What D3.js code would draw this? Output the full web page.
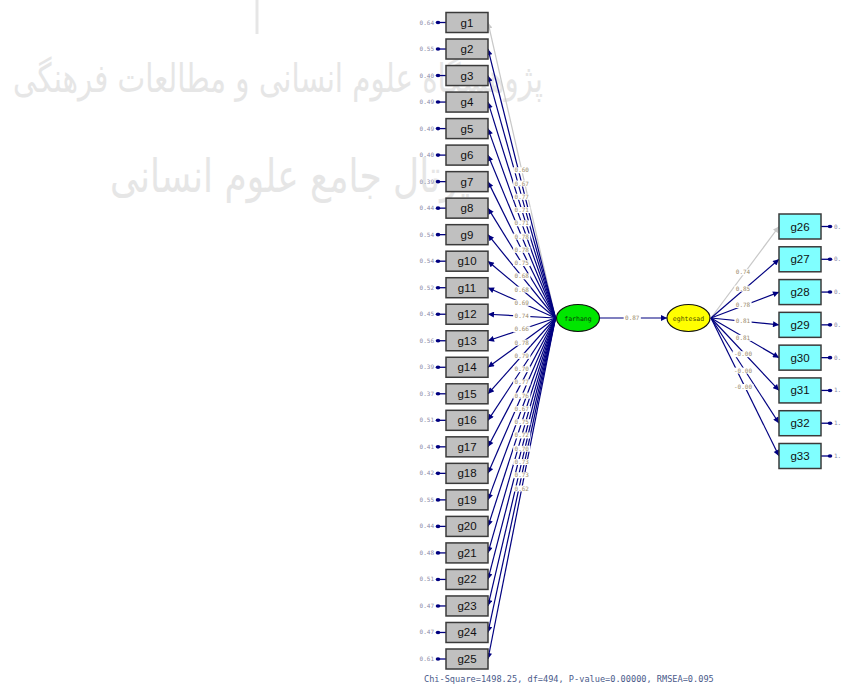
<!DOCTYPE html>
<html>
<head>
<meta charset="utf-8">
<script src="https://cdn.jsdelivr.net/npm/d3@7"></script>
<style>
  body { margin: 0; background: #fff; }
  svg { display: block; }
</style>
</head>
<body>
<div class="svgContainer"></div>
<script>
// path diagram values
let leftIndicators = ["g1", "g2", "g3", "g4", "g5", "g6", "g7", "g8", "g9", "g10", "g11", "g12", "g13",
  "g14", "g15", "g16", "g17", "g18", "g19", "g20", "g21", "g22", "g23", "g24", "g25"];
let leftLoadings = [0.60, 0.67, 0.77, 0.71, 0.71, 0.78, 0.78, 0.75, 0.68, 0.68, 0.69, 0.74, 0.66,
  0.78, 0.79, 0.70, 0.77, 0.76, 0.67, 0.75, 0.72, 0.70, 0.73, 0.73, 0.62];
let leftErrors = [0.64, 0.55, 0.40, 0.49, 0.49, 0.40, 0.39, 0.44, 0.54, 0.54, 0.52, 0.45, 0.56,
  0.39, 0.37, 0.51, 0.41, 0.42, 0.55, 0.44, 0.48, 0.51, 0.47, 0.47, 0.61];

let rightIndicators = ["g26", "g27", "g28", "g29", "g30", "g31", "g32", "g33"];
let rightLoadings = [0.74, 0.85, 0.78, 0.81, 0.81, -0.00, -0.00, -0.00];
let rightErrors = [0.45, 0.28, 0.39, 0.34, 0.34, 1.00, 1.00, 1.00];

let latents = ["farhang", "eghtesad"];
let latentColors = ["#00e600", "#ffff00"];
let structuralLoading = 0.87;
let fixedIndicators = ["g1", "g26"];
let fitText = "Chi-Square=1498.25, df=494, P-value=0.00000, RMSEA=0.095";
let watermarkLines = ["پژوهشگاه علوم انسانی و مطالعات فرهنگی", "پرتال جامع علوم انسانی"];

let width = 841,
  height = 686,
  navy = "#000080",
  grey = "#c8c8c8",
  boxW = 42;

let fmt = v => (v < 0 || Object.is(v, -0) ? "-" : "") + Math.abs(v).toFixed(2);

let svg = d3
  .select(".svgContainer")
  .append("svg")
  .attr("width", width)
  .attr("height", height);

// faint watermark behind the diagram
svg
  .append("line")
  .attr("x1", 257).attr("y1", 0)
  .attr("x2", 257).attr("y2", 34)
  .attr("stroke", "#e6e6e6")
  .attr("stroke-width", 3);
svg
  .selectAll("text.wm")
  .data(watermarkLines)
  .enter()
  .append("text")
  .attr("class", "wm")
  .attr("x", (d, i) => (i === 0 ? 278 : 290))
  .attr("y", (d, i) => (i === 0 ? 92 : 192))
  .attr("text-anchor", "middle")
  .attr("font-family", "DejaVu Sans")
  .attr("font-size", (d, i) => (i === 0 ? 40 : 46))
  .attr("textLength", (d, i) => (i === 0 ? 530 : 360))
  .attr("lengthAdjust", "spacingAndGlyphs")
  .attr("fill", "#e6e6e6")
  .text(d => d);

// arrow heads
let defs = svg.append("defs");
[["navy", navy], ["grey", grey]].forEach(([id, col]) => {
  defs
    .append("marker")
    .attr("id", "arrow-" + id)
    .attr("viewBox", "0 0 10 10")
    .attr("refX", 10)
    .attr("refY", 5)
    .attr("markerUnits", "userSpaceOnUse")
    .attr("markerWidth", 7)
    .attr("markerHeight", 6)
    .attr("orient", "auto")
    .append("path")
    .attr("d", "M0,0L10,5L0,10z")
    .attr("fill", col);
});

// scales for node positions
let yLeft = d3.scalePoint().domain(leftIndicators).range([22.5, 659]);
let yRight = d3.scalePoint().domain(rightIndicators).range([226.5, 456]);
let xLatent = d3.scalePoint().domain(latents).range([578, 688.5]);
let yLatent = 318,
  rx = 21.5,
  ry = 13.5;
let xLeftBox = 446,
  xRightBox = 779;

let left = leftIndicators.map((n, i) => ({ name: n, load: leftLoadings[i], err: leftErrors[i] }));
let right = rightIndicators.map((n, i) => ({ name: n, load: rightLoadings[i], err: rightErrors[i] }));

let start1 = [xLatent("farhang") - rx - 1, yLatent];
let start2 = [xLatent("eghtesad") + rx + 1, yLatent];

let paths = svg.append("g");
paths
  .selectAll("line.lp")
  .data(left)
  .enter()
  .append("line")
  .attr("x1", start1[0])
  .attr("y1", start1[1])
  .attr("x2", xLeftBox + boxW)
  .attr("y2", d => yLeft(d.name))
  .attr("stroke", d => (fixedIndicators.includes(d.name) ? grey : navy))
  .attr("stroke-width", 1.2)
  .attr("marker-end", d => (fixedIndicators.includes(d.name) ? "url(#arrow-grey)" : "url(#arrow-navy)"));

paths
  .selectAll("line.rp")
  .data(right)
  .enter()
  .append("line")
  .attr("x1", start2[0])
  .attr("y1", start2[1])
  .attr("x2", xRightBox)
  .attr("y2", d => yRight(d.name))
  .attr("stroke", d => (fixedIndicators.includes(d.name) ? grey : navy))
  .attr("stroke-width", 1.2)
  .attr("marker-end", d => (fixedIndicators.includes(d.name) ? "url(#arrow-grey)" : "url(#arrow-navy)"));

// structural path
paths
  .append("line")
  .attr("x1", xLatent("farhang") + rx)
  .attr("y1", yLatent)
  .attr("x2", xLatent("eghtesad") - rx)
  .attr("y2", yLatent)
  .attr("stroke", navy)
  .attr("stroke-width", 1.2)
  .attr("marker-end", "url(#arrow-navy)");

// path labels with white backing, at each path's midpoint
let labels = [];
left.forEach(d => labels.push({ x: (start1[0] + xLeftBox + boxW) / 2, y: (start1[1] + yLeft(d.name)) / 2, t: fmt(d.load) }));
right.forEach(d => labels.push({ x: (start2[0] + xRightBox) / 2 - 2, y: (start2[1] + yRight(d.name)) / 2, t: fmt(d.load) }));
labels.push({ x: (xLatent("farhang") + xLatent("eghtesad")) / 2 - 1, y: yLatent, t: fmt(structuralLoading) });

let lab = svg.append("g").selectAll("g").data(labels).enter().append("g");
lab
  .append("rect")
  .attr("x", d => d.x - d.t.length * 1.9 - 1)
  .attr("y", d => d.y - 3)
  .attr("width", d => d.t.length * 3.8 + 2)
  .attr("height", 6)
  .attr("fill", "#fff");
lab
  .append("text")
  .attr("x", d => d.x)
  .attr("y", d => d.y + 2)
  .attr("text-anchor", "middle")
  .attr("font-family", "DejaVu Sans Mono")
  .attr("font-size", 6)
  .attr("fill", "#9a8a6a")
  .text(d => d.t);

// error arrows and variances
let errLeft = svg.append("g").selectAll("g").data(left).enter().append("g");
errLeft
  .append("line")
  .attr("x1", xLeftBox)
  .attr("x2", xLeftBox - 8)
  .attr("y1", d => yLeft(d.name))
  .attr("y2", d => yLeft(d.name))
  .attr("stroke", navy)
  .attr("stroke-width", 1.3);
errLeft
  .append("ellipse")
  .attr("cx", xLeftBox - 8)
  .attr("cy", d => yLeft(d.name))
  .attr("rx", 2.3)
  .attr("ry", 1.8)
  .attr("fill", navy);
errLeft
  .append("text")
  .attr("x", xLeftBox - 12)
  .attr("y", d => yLeft(d.name) + 2)
  .attr("text-anchor", "end")
  .attr("font-family", "DejaVu Sans Mono")
  .attr("font-size", 6)
  .attr("fill", "#8a8aa6")
  .text(d => fmt(d.err));

let errRight = svg.append("g").selectAll("g").data(right).enter().append("g");
errRight
  .append("line")
  .attr("x1", xRightBox + boxW)
  .attr("x2", xRightBox + boxW + 9)
  .attr("y1", d => yRight(d.name))
  .attr("y2", d => yRight(d.name))
  .attr("stroke", navy)
  .attr("stroke-width", 1.3);
errRight
  .append("ellipse")
  .attr("cx", xRightBox + boxW + 9)
  .attr("cy", d => yRight(d.name))
  .attr("rx", 2.3)
  .attr("ry", 1.8)
  .attr("fill", navy);
errRight
  .append("text")
  .attr("x", xRightBox + boxW + 13)
  .attr("y", d => yRight(d.name) + 2)
  .attr("font-family", "DejaVu Sans Mono")
  .attr("font-size", 6)
  .attr("fill", "#8a8aa6")
  .text(d => fmt(d.err));

// indicator boxes
let boxesL = svg.append("g").selectAll("g").data(left).enter().append("g");
boxesL
  .append("rect")
  .attr("x", xLeftBox)
  .attr("y", d => yLeft(d.name) - 10)
  .attr("width", boxW)
  .attr("height", 20)
  .attr("fill", "#c0c0c0")
  .attr("stroke", "#3a3a3a")
  .attr("stroke-width", 1.5);
boxesL
  .append("text")
  .attr("x", xLeftBox + boxW / 2)
  .attr("y", d => yLeft(d.name) + 4)
  .attr("text-anchor", "middle")
  .attr("font-family", "Liberation Sans, Arial")
  .attr("font-size", 11.5)
  .attr("fill", "#111")
  .text(d => d.name);

let boxesR = svg.append("g").selectAll("g").data(right).enter().append("g");
boxesR
  .append("rect")
  .attr("x", xRightBox)
  .attr("y", d => yRight(d.name) - 12.5)
  .attr("width", boxW)
  .attr("height", 25)
  .attr("fill", "#80ffff")
  .attr("stroke", "#3a3a3a")
  .attr("stroke-width", 1.5);
boxesR
  .append("text")
  .attr("x", xRightBox + boxW / 2)
  .attr("y", d => yRight(d.name) + 4)
  .attr("text-anchor", "middle")
  .attr("font-family", "Liberation Sans, Arial")
  .attr("font-size", 11.5)
  .attr("fill", "#111")
  .text(d => d.name);

// latent variables
let lat = svg.append("g").selectAll("g").data(latents).enter().append("g");
lat
  .append("ellipse")
  .attr("cx", d => xLatent(d))
  .attr("cy", yLatent)
  .attr("rx", rx)
  .attr("ry", ry)
  .attr("fill", (d, i) => latentColors[i])
  .attr("stroke", "#111")
  .attr("stroke-width", 1.2);
lat
  .append("text")
  .attr("x", d => xLatent(d))
  .attr("y", yLatent + 2.5)
  .attr("text-anchor", "middle")
  .attr("font-family", "DejaVu Sans Mono")
  .attr("font-size", 6.5)
  .attr("fill", (d, i) => (i === 0 ? "#0a3a0a" : "#4a4a00"))
  .text(d => d);

// fit statistics
svg
  .append("text")
  .attr("x", 424)
  .attr("y", 682)
  .attr("font-family", "DejaVu Sans Mono")
  .attr("font-size", 8.6)
  .attr("fill", "#4a5a8a")
  .text(fitText);
</script>
</body>
</html>
